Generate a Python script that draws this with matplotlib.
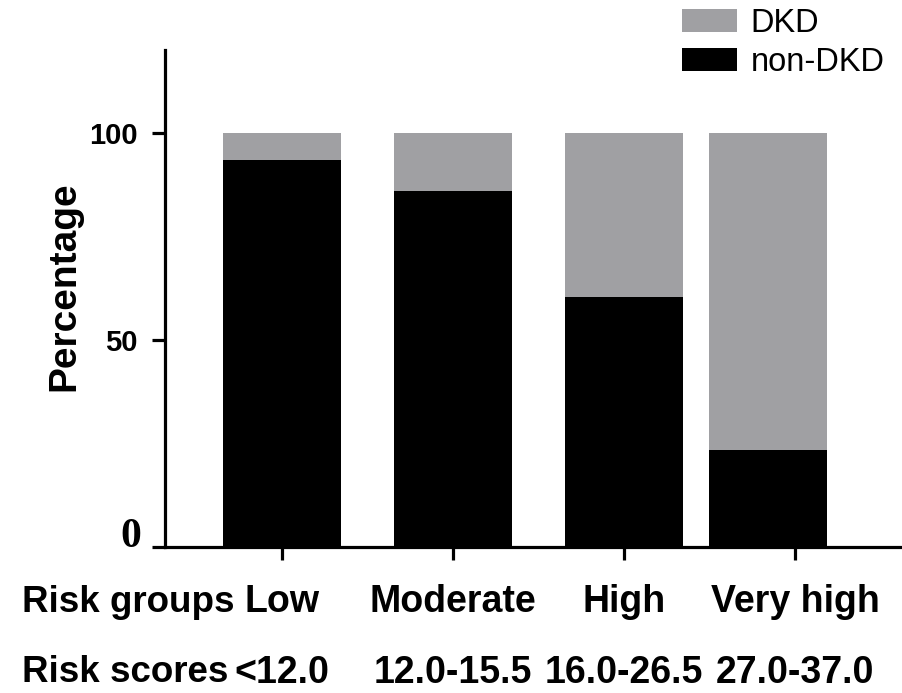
import matplotlib.pyplot as plt
import matplotlib.transforms as mtransforms
import numpy as np

# Data (percent of patients in each risk group)
groups = ["Low", "Moderate", "High", "Very high"]
scores = ["<12.0", "12.0-15.5", "16.0-26.5", "27.0-37.0"]
non_dkd = [93.5, 86.0, 60.3, 23.4]
dkd = [6.5, 14.0, 39.7, 76.6]

plt.rcParams['font.family'] = ['Liberation Sans', 'DejaVu Sans']

fig = plt.figure(figsize=(9.03, 6.93), dpi=100)
ax = fig.add_axes([0.1827, 0.2107, 0.814, 0.7171])

x = np.arange(len(groups))
# the last bar sits a little left of its tick in the original
bar_offset = np.array([0, 0, 0, -0.16])
xb = x + bar_offset

grey = '#a0a0a3'
ax.bar(xb, non_dkd, width=0.69, color='black', label='non-DKD', zorder=2)
ax.bar(xb, dkd, width=0.69, bottom=non_dkd, color=grey, label='DKD', zorder=2)

ax.set_xlim(-0.684, 3.614)
ax.set_ylim(0, 120)

for side in ['top', 'right']:
    ax.spines[side].set_visible(False)
for side in ['left', 'bottom']:
    ax.spines[side].set_linewidth(2.3)

ax.set_yticks([0, 50, 100])
ax.set_yticklabels(['', '50', '100'], fontsize=21, fontweight='bold')
ax.tick_params(axis='y', length=9.5, width=2.3, pad=10)
ax.set_xticks(x)
ax.set_xticklabels([])
ax.tick_params(axis='x', length=9.5, width=2.3)

# the zero label is drawn in a serif face in the original
fig.text(131 / 903, 1 - 537 / 693, '0', fontsize=30, fontweight='bold',
         family='Liberation Serif', ha='center', va='center')

ax.set_ylabel('Percentage', fontsize=28, fontweight='bold')
ax.yaxis.set_label_coords(-0.113, 0.525)

# two rows of category text under the axis
trans = mtransforms.blended_transform_factory(ax.transData, fig.transFigure)
for xi, g, s in zip(x, groups, scores):
    ax.text(xi, 1 - 602 / 693, g, transform=trans, ha='center', va='center',
            fontsize=27, fontweight='bold')
    ax.text(xi, 1 - 673 / 693, s, transform=trans, ha='center', va='center',
            fontsize=27, fontweight='bold')
fig.text(22 / 903, 1 - 602 / 693, 'Risk groups', ha='left', va='center',
         fontsize=26.5, fontweight='bold')
fig.text(22 / 903, 1 - 673 / 693, 'Risk scores', ha='left', va='center',
         fontsize=26.5, fontweight='bold')

handles, labels = ax.get_legend_handles_labels()
ax.legend(handles[::-1], labels[::-1], loc='upper left',
          bbox_to_anchor=(682 / 903, 1 - 8 / 693), bbox_transform=fig.transFigure,
          frameon=False, fontsize=23.5, handlelength=1.7, handleheight=0.72,
          handletextpad=0.4, labelspacing=0.25, borderpad=0, borderaxespad=0)

fig.savefig('out.png', dpi=100)
